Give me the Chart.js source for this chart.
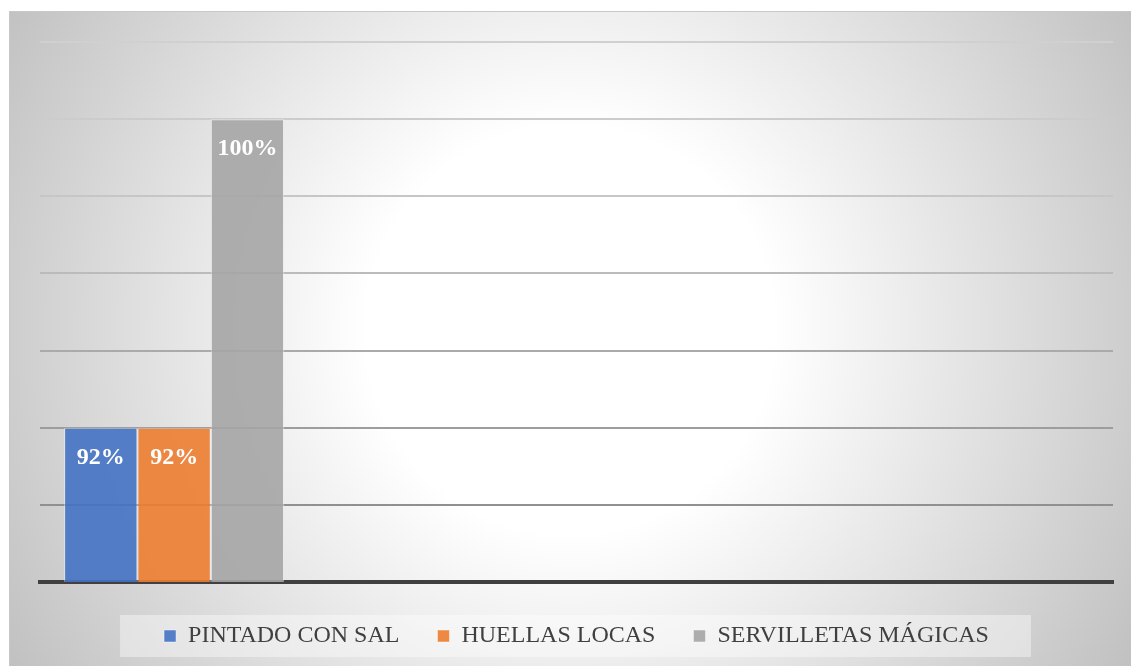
<!DOCTYPE html>
<html>
<head>
<meta charset="utf-8">
<script src="https://cdn.jsdelivr.net/npm/chart.js@4"></script>
<style>
  html, body { margin: 0; padding: 0; background: #ffffff; }
  #wrap { width: 1131px; height: 666px; }
</style>
</head>
<body>
<div id="wrap"><canvas id="chartjs" width="1131" height="666"></canvas></div>
<script>
// Datos del gráfico
const categories = ['1', '2', '3', '4'];
const seriesNames = ['PINTADO CON SAL', 'HUELLAS LOCAS', 'SERVILLETAS MÁGICAS'];
const pintadoConSal = [92, null, null, null];
const huellasLocas = [92, null, null, null];
const servilletasMagicas = [100, null, null, null];
const yMin = 88;
const yMax = 102;
const yStep = 2;

const seriesColors = ['rgba(68, 114, 196, 0.9)', 'rgba(237, 125, 49, 0.9)', 'rgba(165, 165, 165, 0.9)'];
const gridColors = ['rgba(0,0,0,0)', '#909090', '#9d9d9d', '#aaaaaa', '#bbbbbb', '#c6c6c6', '#cccccc', '#d0d0d0'];

let canvas = document.getElementById('chartjs');
let context = canvas.getContext('2d');

// Fondo con degradado radial y caja de la leyenda
const backgroundPlugin = {
    id: 'background',
    beforeDraw: (chart) => {
        let ctx = chart.ctx;
        ctx.save();
        ctx.fillStyle = '#ffffff';
        ctx.fillRect(0, 0, chart.width, chart.height);
        let grad = ctx.createRadialGradient(570, 330, 0, 570, 330, 680);
        grad.addColorStop(0, '#ffffff');
        grad.addColorStop(0.3, '#ffffff');
        grad.addColorStop(1, '#bdbdbd');
        ctx.fillStyle = grad;
        ctx.fillRect(9, 11, chart.width - 9, chart.height - 11);
        ctx.fillStyle = '#c8c8c8';
        ctx.fillRect(9, 11, chart.width - 9, 1);
        ctx.fillRect(9, 11, 1, chart.height - 11);

        let boxes = chart.legend.legendHitBoxes;
        if (boxes && boxes.length) {
            let left = Math.min(...boxes.map(b => b.left)) - 44;
            let right = Math.max(...boxes.map(b => b.left + b.width)) + 42;
            let top = boxes[0].top - 9;
            let bottom = boxes[0].top + boxes[0].height + 9;
            ctx.fillStyle = 'rgba(255, 255, 255, 0.4)';
            ctx.fillRect(left, top, right - left, bottom - top);
        }
        ctx.restore();
    }
};

// Etiquetas de datos dentro de las barras
const dataLabelsPlugin = {
    id: 'dataLabels',
    afterDatasetsDraw: (chart) => {
        let ctx = chart.ctx;
        ctx.save();
        ctx.font = 'bold 24px "Liberation Serif", "Times New Roman", serif';
        ctx.fillStyle = '#ffffff';
        ctx.textAlign = 'center';
        ctx.textBaseline = 'middle';
        chart.data.datasets.forEach((ds, i) => {
            let meta = chart.getDatasetMeta(i);
            meta.data.forEach((bar, j) => {
                let v = ds.data[j];
                if (v === null || v === undefined) return;
                ctx.fillText(v + '%', bar.x, bar.y + 30);
            });
        });
        ctx.restore();
    }
};

const makeDataset = (label, values, color) => ({
    label: label,
    data: values,
    backgroundColor: color,
    borderColor: 'rgba(255, 255, 255, 0.45)',
    borderWidth: 1,
    categoryPercentage: 0.82,
    barPercentage: 1.0
});

let config = {
    type: 'bar',
    data: {
        labels: categories,
        datasets: [
            makeDataset(seriesNames[0], pintadoConSal, seriesColors[0]),
            makeDataset(seriesNames[1], huellasLocas, seriesColors[1]),
            makeDataset(seriesNames[2], servilletasMagicas, seriesColors[2])
        ]
    },
    options: {
        responsive: false,
        animation: false,
        layout: {
            padding: { top: 42, left: 40, right: 18, bottom: 8 }
        },
        scales: {
            x: {
                ticks: { display: false },
                grid: { display: false, drawTicks: false },
                border: { display: true, color: '#404040', width: 4 },
                afterFit: (scale) => { scale.height = 4; }
            },
            y: {
                min: yMin,
                max: yMax,
                ticks: { display: false, stepSize: yStep },
                grid: {
                    drawTicks: false,
                    lineWidth: 2,
                    color: (c) => gridColors[c.index] || '#cccccc'
                },
                border: { display: false },
                afterFit: (scale) => { scale.width = 0; }
            }
        },
        plugins: {
            legend: {
                position: 'bottom',
                labels: {
                    boxWidth: 12,
                    boxHeight: 12,
                    padding: 38,
                    color: '#404040',
                    font: { family: '"Liberation Serif", "Times New Roman", serif', size: 24 }
                }
            },
            tooltip: { enabled: false }
        }
    },
    plugins: [backgroundPlugin, dataLabelsPlugin]
};

let chart = new Chart(context, config);
</script>
</body>
</html>
